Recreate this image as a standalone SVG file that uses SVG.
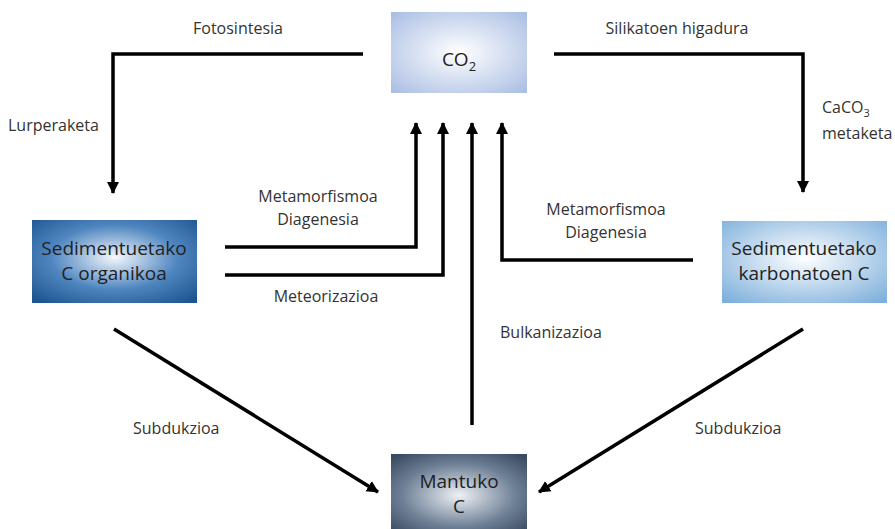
<svg xmlns="http://www.w3.org/2000/svg" width="895" height="529" viewBox="0 0 895 529">
<defs>
<radialGradient id="gCO2" cx="50%" cy="50%" r="70%">
<stop offset="0" stop-color="#ffffff"/><stop offset="1" stop-color="#a9bde3"/>
</radialGradient>
<radialGradient id="gOrg" cx="50%" cy="45%" r="70%">
<stop offset="0" stop-color="#f4f8fc"/><stop offset="0.55" stop-color="#4f86c0"/><stop offset="1" stop-color="#1d5590"/>
</radialGradient>
<radialGradient id="gKarb" cx="50%" cy="45%" r="70%">
<stop offset="0" stop-color="#ffffff"/><stop offset="1" stop-color="#7fb0dc"/>
</radialGradient>
<radialGradient id="gMan" cx="50%" cy="55%" r="70%">
<stop offset="0" stop-color="#eef1f5"/><stop offset="0.6" stop-color="#6e8096"/><stop offset="1" stop-color="#3a4a60"/>
</radialGradient>
<marker id="ah" markerUnits="userSpaceOnUse" markerWidth="12" markerHeight="14" viewBox="0 0 12 14" refX="11" refY="7" orient="auto">
<path d="M0,1 L12,7 L0,13 z" fill="#000"/>
</marker>
</defs>
<style>
.lbl{font-family:"Open Sans","Liberation Sans",sans-serif;font-size:16px;fill:#333}
.node{font-family:"Open Sans","Liberation Sans",sans-serif;font-size:19px;fill:#222;text-anchor:middle}
.c{fill:none;stroke:#000;stroke-width:3.5;stroke-linejoin:miter}
.a{marker-end:url(#ah)}
</style>
<g id="node-co2">
<rect x="391" y="12" width="136" height="81" fill="url(#gCO2)"/>
<text class="node" x="459" y="66">CO<tspan font-size="13" dy="5">2</tspan></text>
</g>
<g id="node-organikoa">
<rect x="32" y="220" width="165" height="83" fill="url(#gOrg)"/>
<text class="node" x="114" y="255">Sedimentuetako</text>
<text class="node" x="114" y="280">C organikoa</text>
</g>
<g id="node-karbonatoen">
<rect x="722" y="221" width="165" height="82" fill="url(#gKarb)"/>
<text class="node" x="804" y="255">Sedimentuetako</text>
<text class="node" x="804" y="280">karbonatoen C</text>
</g>
<g id="node-mantuko">
<rect x="391" y="454" width="136" height="75" fill="url(#gMan)"/>
<text class="node" x="459" y="488">Mantuko</text>
<text class="node" x="459" y="513">C</text>
</g>
<g id="connectors">
<polyline class="c a" points="363,54 113,54 113,193"/>
<polyline class="c a" points="554,54 803,54 803,192"/>
<polyline class="c a" points="225,247 416,247 416,123"/>
<polyline class="c a" points="225,275 443,275 443,123"/>
<polyline class="c a" points="472,425 472,123"/>
<polyline class="c a" points="693,260 502,260 502,123"/>
<line class="c a" x1="114" y1="329" x2="378" y2="492"/>
<line class="c a" x1="803" y1="329" x2="539" y2="492"/>
</g>
<g id="labels">
<text class="lbl" x="238" y="34" text-anchor="middle">Fotosintesia</text>
<text class="lbl" x="677" y="34" text-anchor="middle">Silikatoen higadura</text>
<text class="lbl" x="8" y="131">Lurperaketa</text>
<text class="lbl" x="822" y="113">CaCO<tspan font-size="11" dy="4">3</tspan></text>
<text class="lbl" x="822" y="139">metaketa</text>
<text class="lbl" x="318" y="202" text-anchor="middle">Metamorfismoa</text>
<text class="lbl" x="318" y="225" text-anchor="middle">Diagenesia</text>
<text class="lbl" x="326" y="302" text-anchor="middle">Meteorizazioa</text>
<text class="lbl" x="606" y="215" text-anchor="middle">Metamorfismoa</text>
<text class="lbl" x="606" y="238" text-anchor="middle">Diagenesia</text>
<text class="lbl" x="500" y="338">Bulkanizazioa</text>
<text class="lbl" x="133" y="434">Subdukzioa</text>
<text class="lbl" x="695" y="434">Subdukzioa</text>
</g>
</svg>
